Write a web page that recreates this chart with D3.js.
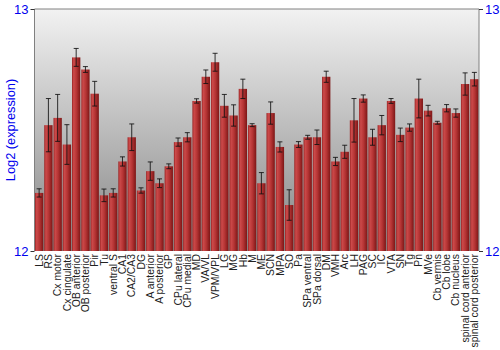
<!DOCTYPE html>
<html>
<head>
<meta charset="utf-8">
<script src="https://cdn.jsdelivr.net/npm/d3@7"></script>
<style>
  body { margin: 0; background: #fff; }
  svg { display: block; font-family: "Liberation Sans", Arial, sans-serif; }
</style>
</head>
<body>
<div id="chart"></div>
<script>
const regions = ["LS", "RS", "Cx motor", "Cx cingulate", "OB anterior", "OB posterior", "Pir", "Tu",
  "ventral S", "CA1", "CA2/CA3", "DG", "A anterior", "A posterior", "GP", "CPu lateral", "CPu medial",
  "MD", "VA/VL", "VPM/VPL", "LG", "MG", "Hb", "M", "ME", "SCN", "MPA", "SO", "Pa", "SPa ventral",
  "SPa dorsal", "DM", "VMH", "Arc", "LH", "PAG", "SC", "IC", "VTA", "SN", "Tg", "Pn", "MVe",
  "Cb vermis", "Cb lobe", "Cb nucleus", "spinal cord anterior", "spinal cord posterior"];

const expression = [12.24, 12.52, 12.55, 12.44, 12.80, 12.75, 12.65, 12.23,
  12.24, 12.37, 12.47, 12.25, 12.33, 12.28, 12.35, 12.45, 12.47,
  12.62, 12.72, 12.78, 12.60, 12.56, 12.67, 12.52, 12.28, 12.57, 12.43, 12.19, 12.44, 12.47,
  12.47, 12.72, 12.37, 12.41, 12.54, 12.63, 12.47, 12.52, 12.62, 12.48, 12.51, 12.63, 12.58,
  12.53, 12.59, 12.57, 12.69, 12.71];

const errors = [0.017, 0.11, 0.097, 0.082, 0.037, 0.012, 0.051, 0.026,
  0.017, 0.019, 0.055, 0.011, 0.038, 0.018, 0.01, 0.017, 0.019,
  0.009, 0.028, 0.037, 0.047, 0.044, 0.04, 0.006, 0.044, 0.046, 0.021, 0.063, 0.012, 0.008,
  0.03, 0.023, 0.017, 0.027, 0.09, 0.015, 0.033, 0.04, 0.01, 0.028, 0.015, 0.08, 0.022,
  0.006, 0.015, 0.017, 0.046, 0.028];

const yTicks = [12, 13];

const data = regions.map((r, i) => ({ name: r, value: expression[i], err: errors[i] }));

const width = 500, height = 350;
const margin = { top: 9, left: 34.5, bottom: 99, right: 21 };
const iwidth = width - margin.left - margin.right;
const iheight = height - margin.top - margin.bottom;

const svg = d3.select("#chart").append("svg")
  .attr("width", width)
  .attr("height", height);

const defs = svg.append("defs");
const bg = defs.append("linearGradient").attr("id", "bg")
  .attr("x1", 0).attr("y1", 0).attr("x2", 0).attr("y2", 1);
bg.append("stop").attr("offset", "0%").attr("stop-color", "#f2f2f2");
bg.append("stop").attr("offset", "100%").attr("stop-color", "#858585");

const barGrad = defs.append("linearGradient").attr("id", "bar")
  .attr("x1", 0).attr("y1", 0).attr("x2", 1).attr("y2", 0);
barGrad.append("stop").attr("offset", "0%").attr("stop-color", "#9a2424");
barGrad.append("stop").attr("offset", "20%").attr("stop-color", "#cc4a4a");
barGrad.append("stop").attr("offset", "55%").attr("stop-color", "#b53434");
barGrad.append("stop").attr("offset", "100%").attr("stop-color", "#7c1616");

const g = svg.append("g").attr("transform", `translate(${margin.left},${margin.top})`);

const x = d3.scaleBand()
  .domain(regions)
  .range([0, iwidth])
  .paddingInner(0.1)
  .paddingOuter(0.05);

const y = d3.scaleLinear()
  .domain([12, 13])
  .range([iheight, 0]);

g.append("rect")
  .attr("width", iwidth)
  .attr("height", iheight)
  .attr("fill", "url(#bg)");

g.selectAll("rect.bar").data(data).enter().append("rect")
  .attr("class", "bar")
  .attr("x", d => x(d.name))
  .attr("y", d => y(d.value))
  .attr("width", x.bandwidth())
  .attr("height", d => iheight - y(d.value))
  .attr("fill", "url(#bar)");

const eb = g.selectAll("g.err").data(data).enter().append("g")
  .attr("class", "err")
  .attr("stroke", "#111")
  .attr("stroke-opacity", 0.85)
  .attr("stroke-width", 1);
eb.append("line")
  .attr("x1", d => x(d.name) + x.bandwidth() / 2)
  .attr("x2", d => x(d.name) + x.bandwidth() / 2)
  .attr("y1", d => y(d.value + d.err))
  .attr("y2", d => y(d.value - d.err));
[1, -1].forEach(s => {
  eb.append("line")
    .attr("x1", d => x(d.name) + x.bandwidth() / 2 - 2.5)
    .attr("x2", d => x(d.name) + x.bandwidth() / 2 + 2.5)
    .attr("y1", d => y(d.value + s * d.err))
    .attr("y2", d => y(d.value + s * d.err));
});

// frame: top, left, right
g.append("path")
  .attr("d", `M0,${iheight}V0H${iwidth}V${iheight}`)
  .attr("fill", "none")
  .attr("stroke", "#808080")
  .attr("stroke-width", 1);

const left = g.append("g").call(d3.axisLeft(y).tickValues(yTicks).tickSize(4).tickPadding(2).tickFormat(d3.format("d")));
const right = g.append("g").attr("transform", `translate(${iwidth},0)`)
  .call(d3.axisRight(y).tickValues(yTicks).tickSize(4).tickPadding(2).tickFormat(d3.format("d")));
[left, right].forEach(a => {
  a.select(".domain").remove();
  a.selectAll("line").attr("stroke", "#333");
  a.selectAll("text").attr("fill", "#0000ee").style("font-size", "13px")
    .style("font-family", "'Liberation Sans', Arial, sans-serif");
});

const xa = g.append("g").attr("transform", `translate(0,${iheight})`)
  .call(d3.axisBottom(x).tickSize(0).tickPadding(0));
xa.select(".domain").remove();
xa.selectAll("text")
  .attr("transform", "rotate(-90)")
  .attr("text-anchor", "end")
  .attr("x", -3)
  .attr("y", 0)
  .attr("dy", "0.35em")
  .attr("fill", "#222")
  .style("font-size", "10.4px")
  .style("font-family", "'Liberation Sans', Arial, sans-serif");

svg.append("text")
  .attr("transform", `translate(14.5,${margin.top + 121}) rotate(-90)`)
  .attr("text-anchor", "middle")
  .attr("fill", "#0000ee")
  .style("font-size", "12.8px")
  .text("Log2 (expression)");
</script>
</body>
</html>
